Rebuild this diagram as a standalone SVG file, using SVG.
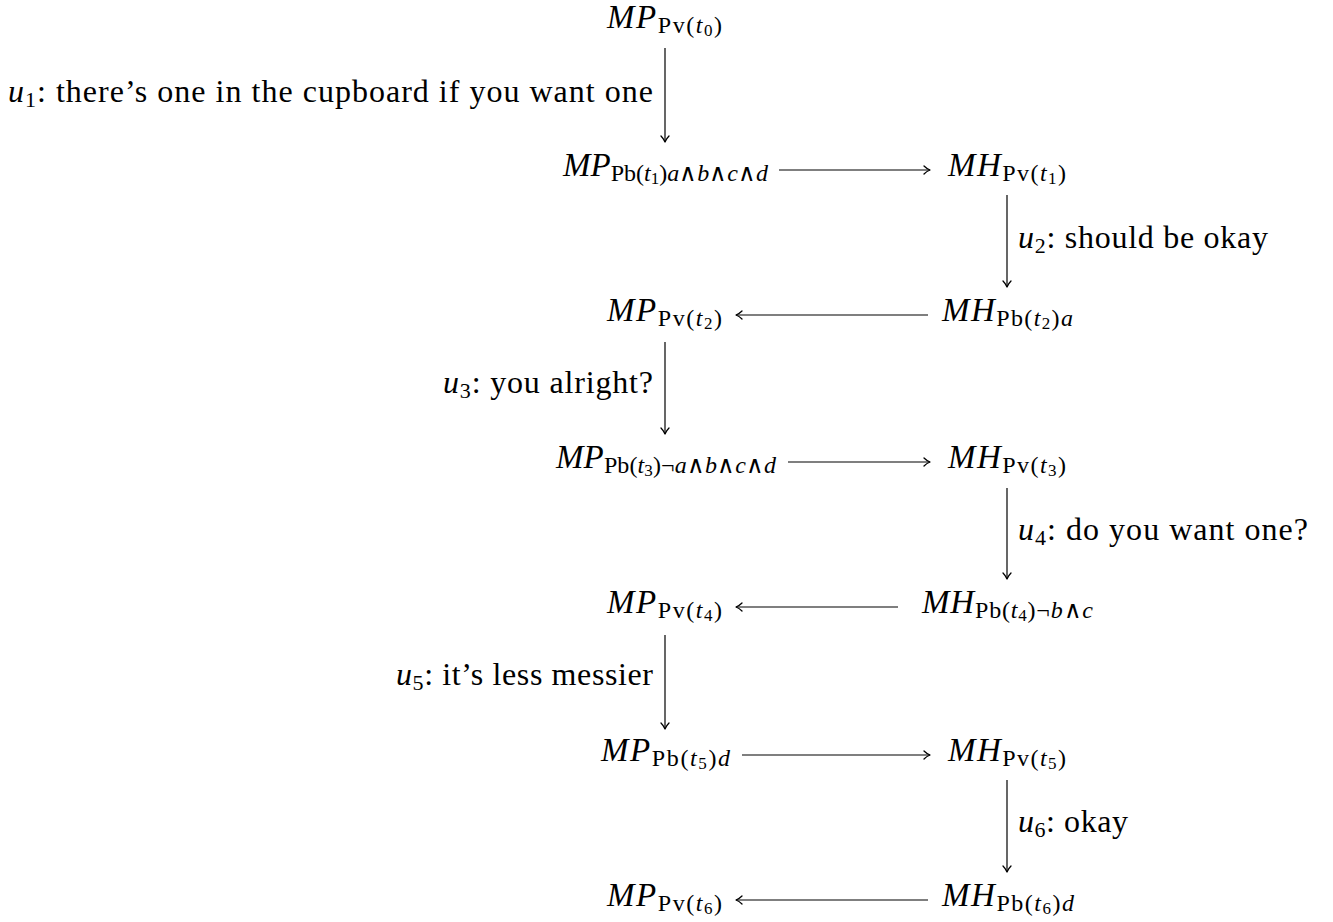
<svg xmlns="http://www.w3.org/2000/svg" width="1333" height="922" viewBox="0 0 1333 922">
<style>
.n,.l,.i,.s,.ss,.ls,.r{font-family:"Liberation Serif",serif;fill:#000}
.n{font-size:33px}
.l{font-size:32px}
.i{font-style:italic}
.s{font-size:24px}
.ss{font-size:17px}
.ls{font-size:22px}
.e{fill:none;stroke:#000;stroke-width:1.2}
</style>
<defs>
<marker id="ah" viewBox="-8 -6 10 12" refX="0" refY="0" markerWidth="10" markerHeight="12" orient="auto" markerUnits="userSpaceOnUse">
<path d="M-6,-4 C-4,-2 -1.5,-0.6 0,0 C-1.5,0.6 -4,2 -6,4" fill="none" stroke="#000" stroke-width="1.3" stroke-linecap="round" stroke-linejoin="round"/>
</marker>
</defs>
<rect width="1333" height="922" fill="#fff"/>

<g id="mp0"><text class="n" font-family="Liberation Serif" x="607" y="28" textLength="115" lengthAdjust="spacing"><tspan class="i" font-family="Liberation Serif">MP</tspan><tspan class="s" font-family="Liberation Serif" dy="5">Pv(</tspan><tspan class="s i" font-family="Liberation Serif">t</tspan><tspan class="ss" font-family="Liberation Serif" dy="3">0</tspan><tspan class="s" font-family="Liberation Serif" dy="-3">)</tspan></text></g>

<g id="mp1"><text class="n" font-family="Liberation Serif" x="563" y="176" textLength="205" lengthAdjust="spacing"><tspan class="i" font-family="Liberation Serif">MP</tspan><tspan class="s" font-family="Liberation Serif" dy="5">Pb(</tspan><tspan class="s i" font-family="Liberation Serif">t</tspan><tspan class="ss" font-family="Liberation Serif" dy="3">1</tspan><tspan class="s" font-family="Liberation Serif" dy="-3">)</tspan><tspan class="s i" font-family="Liberation Serif">a</tspan><tspan class="s" font-family="Liberation Serif">∧</tspan><tspan class="s i" font-family="Liberation Serif">b</tspan><tspan class="s" font-family="Liberation Serif">∧</tspan><tspan class="s i" font-family="Liberation Serif">c</tspan><tspan class="s" font-family="Liberation Serif">∧</tspan><tspan class="s i" font-family="Liberation Serif">d</tspan></text></g>
<g id="mh1"><text class="n" font-family="Liberation Serif" x="948" y="176" textLength="118" lengthAdjust="spacing"><tspan class="i" font-family="Liberation Serif">MH</tspan><tspan class="s" font-family="Liberation Serif" dy="5">Pv(</tspan><tspan class="s i" font-family="Liberation Serif">t</tspan><tspan class="ss" font-family="Liberation Serif" dy="3">1</tspan><tspan class="s" font-family="Liberation Serif" dy="-3">)</tspan></text></g>

<g id="mp2"><text class="n" font-family="Liberation Serif" x="607" y="321" textLength="115" lengthAdjust="spacing"><tspan class="i" font-family="Liberation Serif">MP</tspan><tspan class="s" font-family="Liberation Serif" dy="5">Pv(</tspan><tspan class="s i" font-family="Liberation Serif">t</tspan><tspan class="ss" font-family="Liberation Serif" dy="3">2</tspan><tspan class="s" font-family="Liberation Serif" dy="-3">)</tspan></text></g>
<g id="mh2"><text class="n" font-family="Liberation Serif" x="942" y="321" textLength="131" lengthAdjust="spacing"><tspan class="i" font-family="Liberation Serif">MH</tspan><tspan class="s" font-family="Liberation Serif" dy="5">Pb(</tspan><tspan class="s i" font-family="Liberation Serif">t</tspan><tspan class="ss" font-family="Liberation Serif" dy="3">2</tspan><tspan class="s" font-family="Liberation Serif" dy="-3">)</tspan><tspan class="s i" font-family="Liberation Serif">a</tspan></text></g>

<g id="mp3"><text class="n" font-family="Liberation Serif" x="556" y="468" textLength="220" lengthAdjust="spacing"><tspan class="i" font-family="Liberation Serif">MP</tspan><tspan class="s" font-family="Liberation Serif" dy="5">Pb(</tspan><tspan class="s i" font-family="Liberation Serif">t</tspan><tspan class="ss" font-family="Liberation Serif" dy="3">3</tspan><tspan class="s" font-family="Liberation Serif" dy="-3">)</tspan><tspan class="s" font-family="Liberation Serif">¬</tspan><tspan class="s i" font-family="Liberation Serif">a</tspan><tspan class="s" font-family="Liberation Serif">∧</tspan><tspan class="s i" font-family="Liberation Serif">b</tspan><tspan class="s" font-family="Liberation Serif">∧</tspan><tspan class="s i" font-family="Liberation Serif">c</tspan><tspan class="s" font-family="Liberation Serif">∧</tspan><tspan class="s i" font-family="Liberation Serif">d</tspan></text></g>
<g id="mh3"><text class="n" font-family="Liberation Serif" x="948" y="468" textLength="118" lengthAdjust="spacing"><tspan class="i" font-family="Liberation Serif">MH</tspan><tspan class="s" font-family="Liberation Serif" dy="5">Pv(</tspan><tspan class="s i" font-family="Liberation Serif">t</tspan><tspan class="ss" font-family="Liberation Serif" dy="3">3</tspan><tspan class="s" font-family="Liberation Serif" dy="-3">)</tspan></text></g>

<g id="mp4"><text class="n" font-family="Liberation Serif" x="607" y="613" textLength="115" lengthAdjust="spacing"><tspan class="i" font-family="Liberation Serif">MP</tspan><tspan class="s" font-family="Liberation Serif" dy="5">Pv(</tspan><tspan class="s i" font-family="Liberation Serif">t</tspan><tspan class="ss" font-family="Liberation Serif" dy="3">4</tspan><tspan class="s" font-family="Liberation Serif" dy="-3">)</tspan></text></g>
<g id="mh4"><text class="n" font-family="Liberation Serif" x="922" y="613" textLength="171" lengthAdjust="spacing"><tspan class="i" font-family="Liberation Serif">MH</tspan><tspan class="s" font-family="Liberation Serif" dy="5">Pb(</tspan><tspan class="s i" font-family="Liberation Serif">t</tspan><tspan class="ss" font-family="Liberation Serif" dy="3">4</tspan><tspan class="s" font-family="Liberation Serif" dy="-3">)</tspan><tspan class="s" font-family="Liberation Serif">¬</tspan><tspan class="s i" font-family="Liberation Serif">b</tspan><tspan class="s" font-family="Liberation Serif">∧</tspan><tspan class="s i" font-family="Liberation Serif">c</tspan></text></g>

<g id="mp5"><text class="n" font-family="Liberation Serif" x="601" y="761" textLength="129" lengthAdjust="spacing"><tspan class="i" font-family="Liberation Serif">MP</tspan><tspan class="s" font-family="Liberation Serif" dy="5">Pb(</tspan><tspan class="s i" font-family="Liberation Serif">t</tspan><tspan class="ss" font-family="Liberation Serif" dy="3">5</tspan><tspan class="s" font-family="Liberation Serif" dy="-3">)</tspan><tspan class="s i" font-family="Liberation Serif">d</tspan></text></g>
<g id="mh5"><text class="n" font-family="Liberation Serif" x="948" y="761" textLength="118" lengthAdjust="spacing"><tspan class="i" font-family="Liberation Serif">MH</tspan><tspan class="s" font-family="Liberation Serif" dy="5">Pv(</tspan><tspan class="s i" font-family="Liberation Serif">t</tspan><tspan class="ss" font-family="Liberation Serif" dy="3">5</tspan><tspan class="s" font-family="Liberation Serif" dy="-3">)</tspan></text></g>

<g id="mp6"><text class="n" font-family="Liberation Serif" x="607" y="906" textLength="115" lengthAdjust="spacing"><tspan class="i" font-family="Liberation Serif">MP</tspan><tspan class="s" font-family="Liberation Serif" dy="5">Pv(</tspan><tspan class="s i" font-family="Liberation Serif">t</tspan><tspan class="ss" font-family="Liberation Serif" dy="3">6</tspan><tspan class="s" font-family="Liberation Serif" dy="-3">)</tspan></text></g>
<g id="mh6"><text class="n" font-family="Liberation Serif" x="942" y="906" textLength="132" lengthAdjust="spacing"><tspan class="i" font-family="Liberation Serif">MH</tspan><tspan class="s" font-family="Liberation Serif" dy="5">Pb(</tspan><tspan class="s i" font-family="Liberation Serif">t</tspan><tspan class="ss" font-family="Liberation Serif" dy="3">6</tspan><tspan class="s" font-family="Liberation Serif" dy="-3">)</tspan><tspan class="s i" font-family="Liberation Serif">d</tspan></text></g>

<g id="connectors">
<line class="e" x1="665" y1="48" x2="665" y2="142" marker-end="url(#ah)"/>
<text class="l" font-family="Liberation Serif" x="8" y="102" textLength="645" lengthAdjust="spacing"><tspan class="i" font-family="Liberation Serif">u</tspan><tspan class="ls" font-family="Liberation Serif" dy="5">1</tspan><tspan class="r" font-family="Liberation Serif" dy="-5">: there’s one in the cupboard if you want one</tspan></text>
<line class="e" x1="779" y1="170" x2="930" y2="170" marker-end="url(#ah)"/>
<line class="e" x1="1007" y1="195" x2="1007" y2="287" marker-end="url(#ah)"/>
<text class="l" font-family="Liberation Serif" x="1018" y="248" textLength="250" lengthAdjust="spacing"><tspan class="i" font-family="Liberation Serif">u</tspan><tspan class="ls" font-family="Liberation Serif" dy="5">2</tspan><tspan class="r" font-family="Liberation Serif" dy="-5">: should be okay</tspan></text>
<line class="e" x1="928" y1="315" x2="736" y2="315" marker-end="url(#ah)"/>
<line class="e" x1="665" y1="342" x2="665" y2="434" marker-end="url(#ah)"/>
<text class="l" font-family="Liberation Serif" x="443" y="393" textLength="210" lengthAdjust="spacing"><tspan class="i" font-family="Liberation Serif">u</tspan><tspan class="ls" font-family="Liberation Serif" dy="5">3</tspan><tspan class="r" font-family="Liberation Serif" dy="-5">: you alright?</tspan></text>
<line class="e" x1="788" y1="462" x2="930" y2="462" marker-end="url(#ah)"/>
<line class="e" x1="1007" y1="488" x2="1007" y2="579" marker-end="url(#ah)"/>
<text class="l" font-family="Liberation Serif" x="1018" y="540" textLength="290" lengthAdjust="spacing"><tspan class="i" font-family="Liberation Serif">u</tspan><tspan class="ls" font-family="Liberation Serif" dy="5">4</tspan><tspan class="r" font-family="Liberation Serif" dy="-5">: do you want one?</tspan></text>
<line class="e" x1="898" y1="607" x2="736" y2="607" marker-end="url(#ah)"/>
<line class="e" x1="665" y1="635" x2="665" y2="729" marker-end="url(#ah)"/>
<text class="l" font-family="Liberation Serif" x="396" y="685" textLength="257" lengthAdjust="spacing"><tspan class="i" font-family="Liberation Serif">u</tspan><tspan class="ls" font-family="Liberation Serif" dy="5">5</tspan><tspan class="r" font-family="Liberation Serif" dy="-5">: it’s less messier</tspan></text>
<line class="e" x1="742" y1="755" x2="930" y2="755" marker-end="url(#ah)"/>
<line class="e" x1="1007" y1="780" x2="1007" y2="872" marker-end="url(#ah)"/>
<text class="l" font-family="Liberation Serif" x="1018" y="832" textLength="110" lengthAdjust="spacing"><tspan class="i" font-family="Liberation Serif">u</tspan><tspan class="ls" font-family="Liberation Serif" dy="5">6</tspan><tspan class="r" font-family="Liberation Serif" dy="-5">: okay</tspan></text>
<line class="e" x1="928" y1="900" x2="736" y2="900" marker-end="url(#ah)"/>
</g>
</svg>
